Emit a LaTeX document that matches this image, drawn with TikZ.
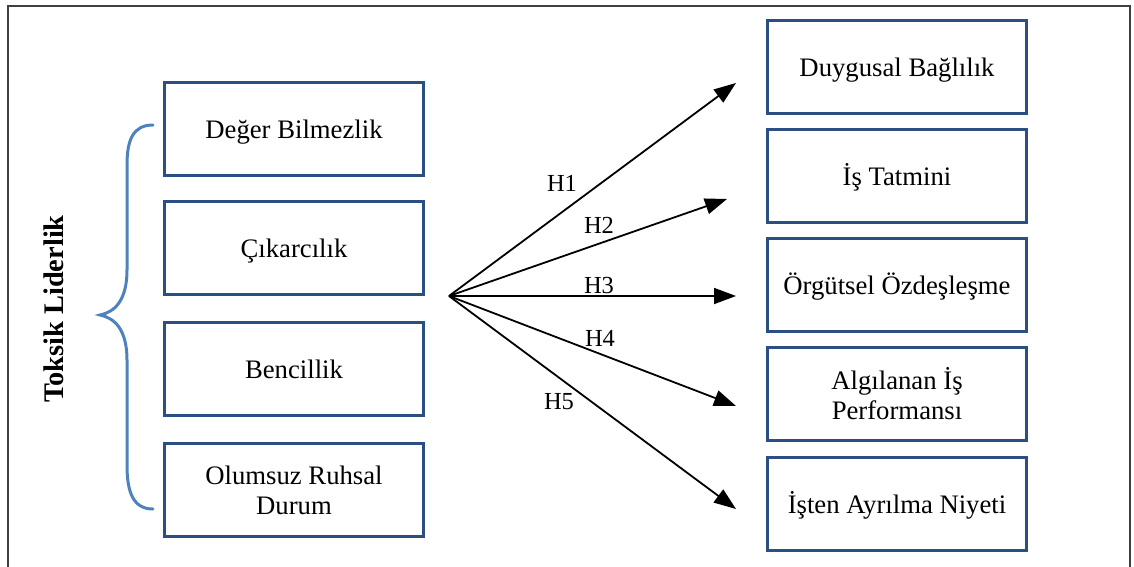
\documentclass[tikz,border=0pt]{standalone}
\usepackage{fontspec}
\setmainfont{Liberation Serif}
\usetikzlibrary{arrows.meta}
\definecolor{boxblue}{HTML}{2B4F82}
\definecolor{braceblue}{HTML}{4F81BD}
\begin{document}
\begin{tikzpicture}[x=1pt,y=-1pt,
  vbox/.style={draw=boxblue,line width=3pt,minimum width=259pt,minimum height=93pt,align=center,font=\fontsize{26.7}{30}\selectfont,inner sep=0pt},
  oneline/.style={text height=24pt,text depth=5pt},
  hyp/.style={-{Triangle[length=22pt,width=16pt]},line width=1.8pt},
  hlab/.style={font=\fontsize{24.5}{28}\selectfont,inner sep=0pt}]
\useasboundingbox (0,0) rectangle (1134,567);
\draw[line width=1.5pt,black!75] (8,580) -- (8,6) -- (1130,6) -- (1130,580);
% left boxes
\node[vbox,oneline] (a1) at (294,129) {Değer Bilmezlik};
\node[vbox,oneline] (a2) at (294,247.5) {Çıkarcılık};
\node[vbox,oneline] (a3) at (294,368.5) {Bencillik};
\node[vbox] (a4) at (294,490) {Olumsuz Ruhsal\\Durum};
% right boxes
\node[vbox,oneline] (b1) at (897,67.5) {Duygusal Bağlılık};
\node[vbox,oneline] (b2) at (897,176) {İş Tatmini};
\node[vbox,oneline] (b3) at (897,285) {Örgütsel Özdeşleşme};
\node[vbox] (b4) at (897,394) {Algılanan İş\\Performansı};
\node[vbox,oneline] (b5) at (897,503.5) {İşten Ayrılma Niyeti};
% brace
\draw[braceblue,line width=3pt,line cap=round]
  (153,125) .. controls (133,125) and (127,140) .. (127,165)
  -- (127,270) .. controls (127,300) and (115,312) .. (100,315)
  .. controls (115,318) and (127,330) .. (127,360)
  -- (127,465) .. controls (127,492) and (133,509) .. (153,509);
\node[font=\bfseries\fontsize{28.4}{30}\selectfont,rotate=90] (tl) at (54,309) {Toksik Liderlik};
% arrows
\coordinate (o) at (449,296);
\coordinate (t1) at (736,83);
\coordinate (t2) at (727,199);
\coordinate (t3) at (736,296);
\coordinate (t4) at (736,406);
\coordinate (t5) at (736,509);
\foreach \i in {1,...,5} \draw[hyp] (o) -- (t\i);
\node[hlab] (h1) at (562,183) {H1};
\node[hlab] (h2) at (599,225) {H2};
\node[hlab] (h3) at (599,286) {H3};
\node[hlab] (h4) at (600,338) {H4};
\node[hlab] (h5) at (559,402) {H5};
\end{tikzpicture}
\end{document}
